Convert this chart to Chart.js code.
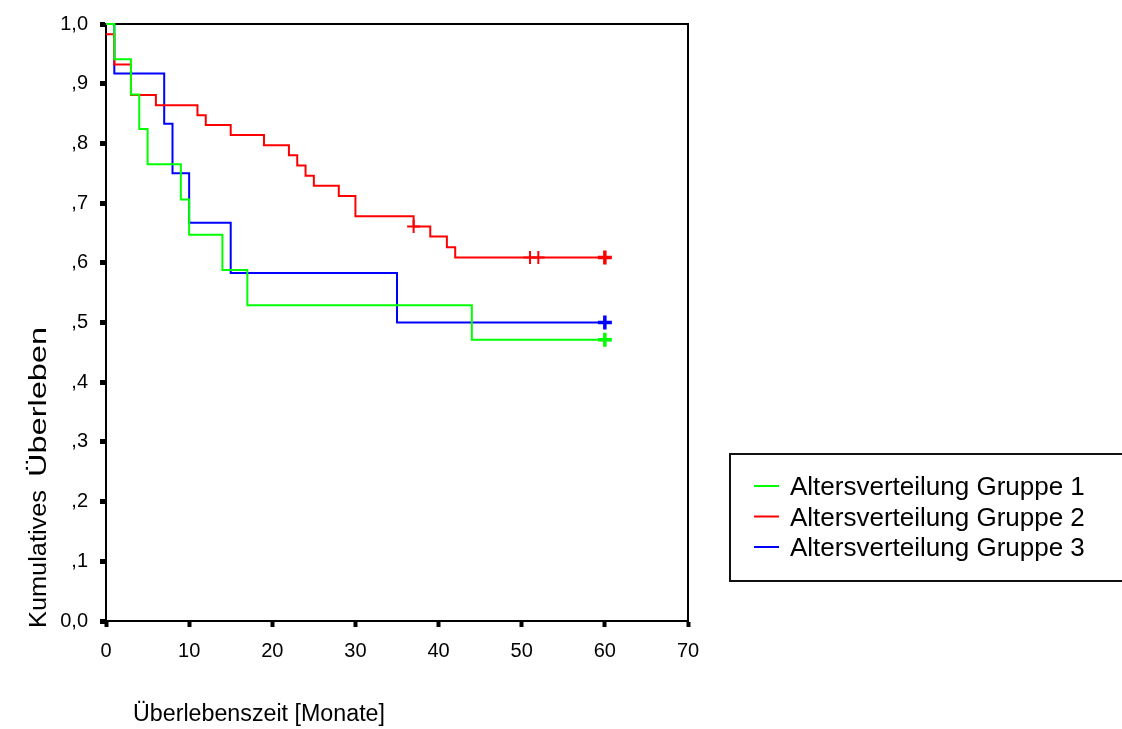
<!DOCTYPE html>
<html>
<head>
<meta charset="utf-8">
<script src="https://cdn.jsdelivr.net/npm/chart.js@4/dist/chart.umd.min.js"></script>
<style>
  html, body { margin: 0; padding: 0; background: #ffffff; }
  #wrap { width: 1122px; height: 729px; }
</style>
</head>
<body>
<div id="wrap"><canvas id="km" width="1122" height="729"></canvas></div>
<script>
// Kaplan-Meier survival by age group (months, cumulative survival)
const groupLabels = ['Altersverteilung Gruppe 1', 'Altersverteilung Gruppe 2', 'Altersverteilung Gruppe 3'];
const groupColors = ['#00ff00', '#ff0000', '#0000ff'];

const group1Months   = [0, 1, 3, 4, 5, 9, 10, 14, 17, 44, 60];
const group1Survival = [1.0, 0.941, 0.882, 0.824, 0.765, 0.706, 0.647, 0.588, 0.529, 0.471, 0.471];
const group1CensorMonths   = [60];
const group1CensorSurvival = [0.471];

const group2Months   = [0, 1, 3, 6, 11, 12, 15, 19, 22, 23, 24, 25, 28, 30, 37, 39, 41, 42, 60];
const group2Survival = [0.983, 0.932, 0.881, 0.864, 0.847, 0.831, 0.814, 0.797, 0.780, 0.763, 0.746, 0.729, 0.712, 0.678, 0.661, 0.644, 0.626, 0.609, 0.609];
const group2CensorMonths   = [37, 51, 52, 60];
const group2CensorSurvival = [0.661, 0.609, 0.609, 0.609];

const group3Months   = [0, 1, 7, 8, 10, 15, 35, 60];
const group3Survival = [1.0, 0.917, 0.833, 0.750, 0.667, 0.583, 0.500, 0.500];
const group3CensorMonths   = [60];
const group3CensorSurvival = [0.500];

const yTickLabels = ['0,0', ',1', ',2', ',3', ',4', ',5', ',6', ',7', ',8', ',9', '1,0'];
const xTickValues = [0, 10, 20, 30, 40, 50, 60, 70];

const xTitle = 'Überlebenszeit [Monate]';
const yTitleWords = ['Kumulatives', 'Überleben'];

const FONT = '"Liberation Sans", Arial, Helvetica, sans-serif';

function toPoints(xs, ys) { return xs.map((x, i) => ({ x: x, y: ys[i] })); }

function curve(idx, xs, ys) {
  return {
    label: groupLabels[idx],
    data: toPoints(xs, ys),
    borderColor: groupColors[idx],
    backgroundColor: groupColors[idx],
    borderWidth: 2,
    stepped: 'before',
    pointRadius: 0,
    fill: false,
    clip: false,
    order: idx
  };
}

function censors(idx, xs, ys) {
  const last = xs.length - 1;
  return {
    type: 'scatter',
    label: groupLabels[idx] + ' (zensiert)',
    data: toPoints(xs, ys),
    borderColor: groupColors[idx],
    backgroundColor: groupColors[idx],
    pointStyle: 'cross',
    pointRadius: xs.map((x, i) => i === last ? 7 : 6.5),
    pointBorderWidth: xs.map((x, i) => i === last ? 3.5 : 2),
    showLine: false,
    clip: false,
    order: idx
  };
}

// Draws the plot frame, the boxed legend and the axis titles
const decorations = {
  id: 'decorations',
  beforeDatasetsDraw(chart) {
    const { ctx, chartArea: a } = chart;
    ctx.save();
    ctx.strokeStyle = '#000';
    ctx.lineWidth = 2;
    ctx.strokeRect(a.left, a.top, a.right - a.left, a.bottom - a.top);
    ctx.restore();
  },
  afterDraw(chart) {
    const ctx = chart.ctx;
    ctx.save();

    // legend box
    ctx.strokeStyle = '#111';
    ctx.lineWidth = 2;
    ctx.strokeRect(730, 454, 420, 127);
    const rows = [486, 516.5, 547];
    ctx.font = '26px ' + FONT;
    ctx.fillStyle = '#000';
    ctx.textBaseline = 'alphabetic';
    ctx.textAlign = 'left';
    rows.forEach((y, i) => {
      const ds = chart.data.datasets[i];
      ctx.strokeStyle = ds.borderColor;
      ctx.lineWidth = 2;
      ctx.beginPath();
      ctx.moveTo(754, y);
      ctx.lineTo(779, y);
      ctx.stroke();
      ctx.fillText(ds.label, 790, y + 9);
    });

    // x axis title
    ctx.font = '23px ' + FONT;
    const w = ctx.measureText(xTitle).width;
    ctx.save();
    ctx.translate(133, 721);
    ctx.scale(252 / w, 1);
    ctx.fillText(xTitle, 0, 0);
    ctx.restore();

    // y axis title, reading upwards
    ctx.save();
    ctx.translate(46, 628);
    ctx.rotate(-Math.PI / 2);
    ctx.font = '23px ' + FONT;
    const spans = [[0, 138], [151, 150]];
    yTitleWords.forEach((word, i) => {
      const nat = ctx.measureText(word).width;
      ctx.save();
      ctx.translate(spans[i][0], 0);
      ctx.scale(spans[i][1] / nat, 1);
      ctx.fillText(word, 0, 0);
      ctx.restore();
    });
    ctx.restore();

    ctx.restore();
  }
};

new Chart(document.getElementById('km'), {
  type: 'line',
  data: {
    datasets: [
      curve(0, group1Months, group1Survival),
      curve(1, group2Months, group2Survival),
      curve(2, group3Months, group3Survival),
      censors(0, group1CensorMonths, group1CensorSurvival),
      censors(1, group2CensorMonths, group2CensorSurvival),
      censors(2, group3CensorMonths, group3CensorSurvival)
    ]
  },
  options: {
    responsive: false,
    animation: false,
    devicePixelRatio: 1,
    layout: { padding: { top: 21, right: 434, left: 0, bottom: 0 } },
    plugins: { legend: { display: false }, tooltip: { enabled: false }, title: { display: false } },
    scales: {
      x: {
        type: 'linear',
        min: 0, max: 70,
        afterFit(scale) { scale.height = 108; },
        afterBuildTicks(scale) { scale.ticks = xTickValues.map(v => ({ value: v })); },
        border: { display: true, color: '#000', width: 2 },
        grid: { drawOnChartArea: false, drawTicks: true, tickLength: 6, tickWidth: 4, tickColor: '#000' },
        ticks: { color: '#000', font: { family: FONT, size: 20 }, padding: 12, maxRotation: 0, autoSkip: false,
                 callback: v => String(v) }
      },
      y: {
        type: 'linear',
        min: 0, max: 1,
        afterFit(scale) { scale.width = 106; },
        afterBuildTicks(scale) { scale.ticks = yTickLabels.map((t, i) => ({ value: i / 10 })); },
        border: { display: true, color: '#000', width: 2 },
        grid: { drawOnChartArea: false, drawTicks: true, tickLength: 6, tickWidth: 5, tickColor: '#000' },
        ticks: { color: '#000', font: { family: FONT, size: 20 }, padding: 12, autoSkip: false,
                 callback: (v, i) => yTickLabels[i] }
      }
    }
  },
  plugins: [decorations]
});
</script>
</body>
</html>
